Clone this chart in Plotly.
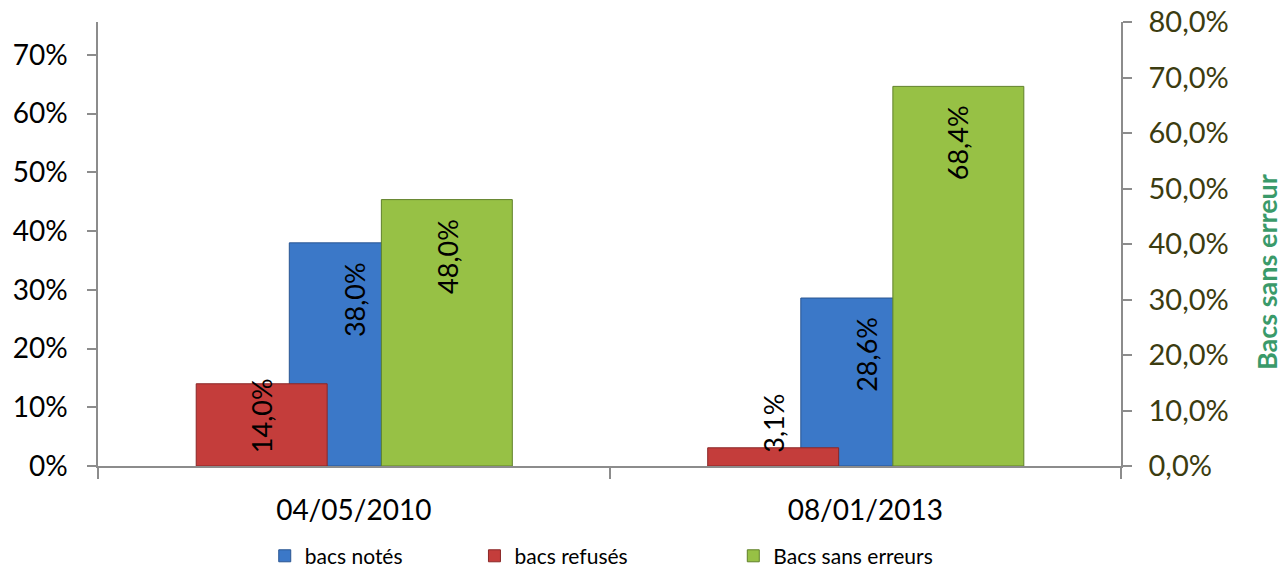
import plotly.graph_objects as go

categories = ["04/05/2010", "08/01/2013"]
notes = [0.380, 0.286]        # bacs notés (left axis)
refuses = [0.140, 0.031]      # bacs refusés (left axis)
sans_erreurs = [0.480, 0.684] # Bacs sans erreurs (right axis)
right_title = "Bacs sans erreur"

FONT = "Lato"
W = 0.256
OFF_RED, OFF_BLUE, OFF_GREEN = -0.308, -0.126, 0.054

def fr(v):
    return f"{v*100:.1f}%".replace(".", ",")

fig = go.Figure()
fig.add_trace(go.Bar(
    name="bacs notés", x=categories, y=notes, yaxis="y",
    width=W, offset=OFF_BLUE, showlegend=True,
    marker=dict(color="#3b78c8", line=dict(color="#2a5592", width=1)),
    legend="legend", hoverinfo="skip"))
fig.add_trace(go.Bar(
    name="bacs refusés", x=categories, y=refuses, yaxis="y",
    width=W, offset=OFF_RED, showlegend=True,
    marker=dict(color="#c43d3b", line=dict(color="#8a2727", width=1)),
    legend="legend2", hoverinfo="skip"))
fig.add_trace(go.Bar(
    name="Bacs sans erreurs", x=categories, y=sans_erreurs, yaxis="y2",
    width=W, offset=OFF_GREEN, showlegend=True,
    marker=dict(color="#97c145", line=dict(color="#60802a", width=1)),
    legend="legend3", hoverinfo="skip"))

annos = []
lab_font = dict(family=FONT, size=27, color="black")
for i in range(len(categories)):
    annos.append(dict(x=i + OFF_BLUE + W / 2, y=notes[i], xref="x", yref="y",
                      text=fr(notes[i]), textangle=-90, showarrow=False,
                      yanchor="top", yshift=-17, font=lab_font))
    annos.append(dict(x=i + OFF_GREEN + W / 2, y=sans_erreurs[i], xref="x", yref="y2",
                      text=fr(sans_erreurs[i]), textangle=-90, showarrow=False,
                      yanchor="top", yshift=-17, font=lab_font))
    annos.append(dict(x=i + OFF_RED + W / 2, y=0, xref="x", yref="y",
                      text=fr(refuses[i]), textangle=-90, showarrow=False,
                      yanchor="bottom", yshift=11, font=lab_font))

# right axis title
annos.append(dict(x=1.1427, y=0.437, xref="paper", yref="paper",
                  text=f"<b>{right_title}</b>", textangle=-90, showarrow=False,
                  xanchor="center", yanchor="middle",
                  font=dict(family=FONT, size=27, color="#3a9a6a")))

axis_gray = "#8c8c8c"
leg_common = dict(orientation="h", yanchor="middle", y=-0.203, xanchor="left",
                  font=dict(family=FONT, size=21, color="black"),
                  bgcolor="rgba(0,0,0,0)", itemclick=False)

fig.update_layout(
    width=1282, height=567,
    margin=dict(l=98, r=161, t=22, b=101, autoexpand=False),
    paper_bgcolor="white", plot_bgcolor="white",
    barmode="overlay",
    separators=", ",
    showlegend=True,
    font=dict(family=FONT, color="black"),
    xaxis=dict(type="category", showline=True, linecolor=axis_gray, linewidth=1.5,
               ticks="outside", tickson="boundaries", ticklen=11, tickcolor=axis_gray,
               tickwidth=1.5, ticklabelstandoff=19, automargin=False,
               tickfont=dict(family=FONT, size=28, color="black"),
               showgrid=False, zeroline=False, range=[-0.5, 1.5]),
    yaxis=dict(range=[0, 0.756], tickvals=[0, 0.1, 0.2, 0.3, 0.4, 0.5, 0.6, 0.7],
               tickformat=".0%", showline=True, linecolor=axis_gray, linewidth=1.5,
               ticks="outside", ticklen=9, tickcolor=axis_gray, tickwidth=1.5,
               ticklabelstandoff=14, showgrid=False, zeroline=False, automargin=False,
               ticklabeloverflow="allow",
               tickfont=dict(family=FONT, size=28, color="black")),
    yaxis2=dict(range=[0, 0.8], tickvals=[0, 0.1, 0.2, 0.3, 0.4, 0.5, 0.6, 0.7, 0.8],
                tickformat=".1%", overlaying="y", side="right", anchor="x",
                showline=True, linecolor=axis_gray, linewidth=1.5,
                ticks="outside", ticklen=9, tickcolor=axis_gray, tickwidth=1.5,
                ticklabelstandoff=11, showgrid=False, zeroline=False, automargin=False,
                ticklabeloverflow="allow",
                tickfont=dict(family=FONT, size=29, color="#3c3c10")),
    legend=dict(x=0.163, **leg_common),
    legend2=dict(x=0.368, **leg_common),
    legend3=dict(x=0.621, **leg_common),
    annotations=annos,
)

fig.write_html("out.html", config={"displayModeBar": False},
               post_script="document.body.style.margin='0';")
